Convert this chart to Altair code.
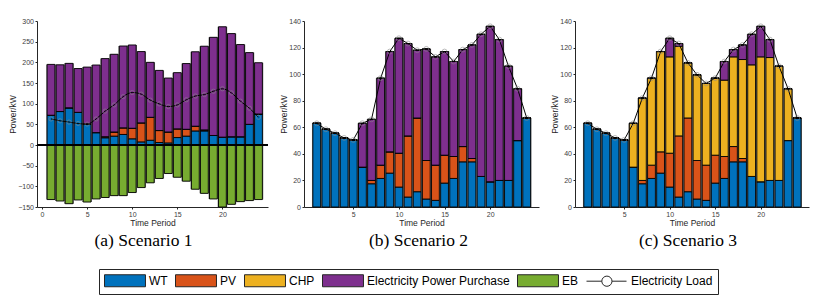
import altair as alt
import pandas as pd

hours = list(range(1, 25))
series_names = ["WT", "PV", "CHP", "Electricity Power Purchase", "EB", "Electricity Load"]
series_colors = ["#0072BD", "#D95319", "#EDB120", "#7E2F8E", "#77AC30", "white"]
# legend symbols (units of 6 px with symbolSize 144): 41 px wide, 12 px tall,
# left edge at the entry's origin
rect_path = "M-1,-1L5.83,-1L5.83,1L-1,1Z"
load_path = ("M-1,0L1.55,0M3.25,0L5.67,0M1.55,0A0.85,0.85,0,1,0,3.25,0"
             "A0.85,0.85,0,1,0,1.55,0")

# shared PV output
pv = [0, 0, 0, 0, 0, 0, 2.5, 10, 16, 25.5, 46, 55.5, 29, 26.5, 21, 16.5, 11.5, 2.5,
      0, 0, 0, 0, 0, 0]

# Scenario 1
wt_a = [72, 81, 90, 79, 51, 30, 17.5, 21.5, 25.5, 15, 7.5, 11.5, 6, 5, 18, 21.5, 34, 34,
        23, 19, 20, 20, 50, 75]
purchase_a = [123, 113, 107.5, 106, 137.5, 163.5, 189, 188, 198, 201.5, 172.5, 133,
              145.5, 130.5, 136, 159, 180, 202.5, 237.5, 267, 249.5, 223, 173.5, 124]
eb_a = [-132, -135.5, -142, -133, -138, -130.5, -127, -122.5, -122.5, -115, -103, -91.5,
        -81, -69, -78, -87.5, -107, -117, -130.5, -150, -143.5, -137, -134.5, -132]
load_a = [63, 58.5, 55.5, 52, 50.5, 63, 82, 97, 117, 127, 123, 108.5, 99.5, 93, 97,
          109.5, 118.5, 122, 130, 136, 126, 106, 89, 67]

# Scenario 2
wt_b = [63, 58.5, 55.5, 52, 50.5, 30, 17.5, 21.5, 25.5, 15, 7.5, 11.5, 6, 5, 18, 21.5,
        34, 34, 23, 19, 20, 20, 50, 67]
purchase_b = [0, 0, 0, 0, 0, 33, 46, 65.5, 75.5, 86.5, 69.5, 51, 84, 81.5, 78, 71.5,
              73, 85.5, 107, 117, 106, 86, 39, 0]
load_b = [63, 58.5, 55.5, 52, 50.5, 63, 66, 97, 117, 127, 123, 118, 119, 113, 117,
          109.5, 118.5, 122, 130, 136, 126, 106, 89, 67]

# Scenario 3
wt_c = wt_b
chp_c = [0, 0, 0, 0, 0, 33, 62, 65.5, 75.5, 72.5, 67.5, 41.5, 64.5, 61.5, 58, 57.5,
         67.5, 74.5, 84, 94, 92.5, 86, 39, 0]
purchase_c = [0, 0, 0, 0, 0, 0, 0, 0, 0, 14, 2, 0, 0, 0, 0, 14, 5.5, 11, 23, 23, 13.5,
              0, 0, 0]
load_c = [63, 58.5, 55.5, 52, 50.5, 63, 82, 97, 117, 127, 123, 108.5, 99.5, 93, 97,
          109.5, 118.5, 122, 130, 136, 126, 106, 89, 67]

zeros = [0] * 24

fill_scale = alt.Scale(domain=series_names, range=series_colors)
shape_scale = alt.Scale(domain=series_names,
                        range=[rect_path] * 5 + [load_path])

AX_FONT = "Liberation Sans"


def panel(wt, pvv, chp, pur, eb, load, xdom, xticks, ydom, yticks, width, title,
          dx, smooth, show_legend):
    rows = []
    for i, h in enumerate(hours):
        for k, (name, vals) in enumerate(zip(series_names[:5], [wt, pvv, chp, pur, eb])):
            rows.append({"hour": h, "series": name, "value": vals[i], "order": k})
    df = pd.DataFrame(rows)
    tot = pd.DataFrame({
        "hour": hours,
        "pos": [wt[i] + pvv[i] + chp[i] + pur[i] for i in range(24)],
        "neg": [min(eb[i], 0) for i in range(24)],
    })
    ldf = pd.DataFrame({"hour": hours, "load": load})

    xenc = alt.X("hour:Q", scale=alt.Scale(domain=xdom, nice=False, zero=False),
                 axis=alt.Axis(values=xticks, title="Time Period", format="d",
                               labelOverlap=False, tickCount=30))
    yax = alt.Axis(values=yticks, title="Power/kW", format="d", labelOverlap=False,
                   tickCount=30)

    shadow = alt.Chart(tot).mark_bar(size=9.6, color="#808080").encode(
        x=xenc,
        y=alt.Y("neg:Q", scale=alt.Scale(domain=ydom, nice=False), axis=yax),
        y2="pos:Q",
    )
    legend = None
    if show_legend:
        legend = alt.Legend(
            orient="none", legendX=62, legendY=248, direction="horizontal",
            columns=6, title=None, labelFont=AX_FONT, labelFontSize=12,
            labelColor="black", symbolSize=144, symbolStrokeColor="#262626",
            symbolStrokeWidth=1, strokeColor="#262626", fillColor="white",
            padding=5, columnPadding=5, labelOffset=32,
            labelLimit=400, symbolOpacity=1, symbolFillColor="white",
        )
    bars = alt.Chart(df).mark_bar(size=7.8, stroke="black", strokeWidth=0.9).encode(
        x="hour:Q",
        y=alt.Y("value:Q", stack="zero"),
        fill=alt.Fill("series:N", scale=fill_scale, legend=legend),
        order=alt.Order("order:Q"),
    )
    dummy = alt.Chart(df).transform_filter("false").mark_point(
        filled=True, opacity=1).encode(
        x="hour:Q",
        y="value:Q",
        fill=alt.Fill("series:N", scale=fill_scale, legend=legend),
        shape=alt.Shape("series:N", scale=shape_scale, legend=legend),
    )
    line = alt.Chart(ldf).mark_line(color="black", strokeWidth=1,
                                    interpolate="monotone" if smooth else "linear").encode(
        x="hour:Q", y="load:Q")
    pts = alt.Chart(ldf).mark_point(shape="circle", filled=False, color="#8a8a8a",
                                    size=18 if smooth else 24, strokeWidth=0.8).encode(
        x="hour:Q", y="load:Q")
    layers = [shadow, bars, dummy]
    if ydom[0] < 0:
        layers.append(alt.Chart(tot).mark_rule(color="black", strokeWidth=1.5).encode(
            y=alt.datum(0)))
    layers += [line, pts]
    return alt.layer(*layers).properties(
        width=width, height=186,
        title=alt.TitleParams(title, orient="bottom", font="Liberation Serif",
                              fontSize=17.5, fontWeight="normal", color="black",
                              offset=5, dx=dx),
    )


pa = panel(wt_a, pv, zeros, purchase_a, eb_a, load_a, [0, 24.5], [0, 5, 10, 15, 20],
           [-150, 300], list(range(-150, 301, 50)), 231, "(a) Scenario 1", -9, True, True)
pb = panel(wt_b, pv, zeros, purchase_b, zeros, load_b, [0.15, 24.8], [5, 10, 15, 20],
           [0, 140], list(range(0, 141, 20)), 235, "(b) Scenario 2", -3, False, False)
pc = panel(wt_c, pv, chp_c, purchase_c, zeros, load_c, [0.15, 24.75], [5, 10, 15, 20],
           [0, 140], list(range(0, 141, 20)), 234, "(c) Scenario 3", -4, False, False)

chart = alt.hconcat(pa, pb, pc, spacing=36, bounds="flush").resolve_scale(
    fill="shared", shape="shared"
).properties(
    padding={"left": 0, "top": 9, "right": 2, "bottom": 2}
).configure_view(stroke=None).configure_axis(
    grid=False, domainColor="#262626", tickColor="#262626", tickSize=2,
    labelFont=AX_FONT, labelFontSize=7, labelColor="#404040", labelPadding=1.5,
    labelOverlap=False, labelBound=False,
    titleFont=AX_FONT, titleFontSize=8.5, titleFontWeight="normal",
    titleColor="#262626", titlePadding=0.5,
)

chart.save("out.html", embed_options={"renderer": "svg", "actions": False})
